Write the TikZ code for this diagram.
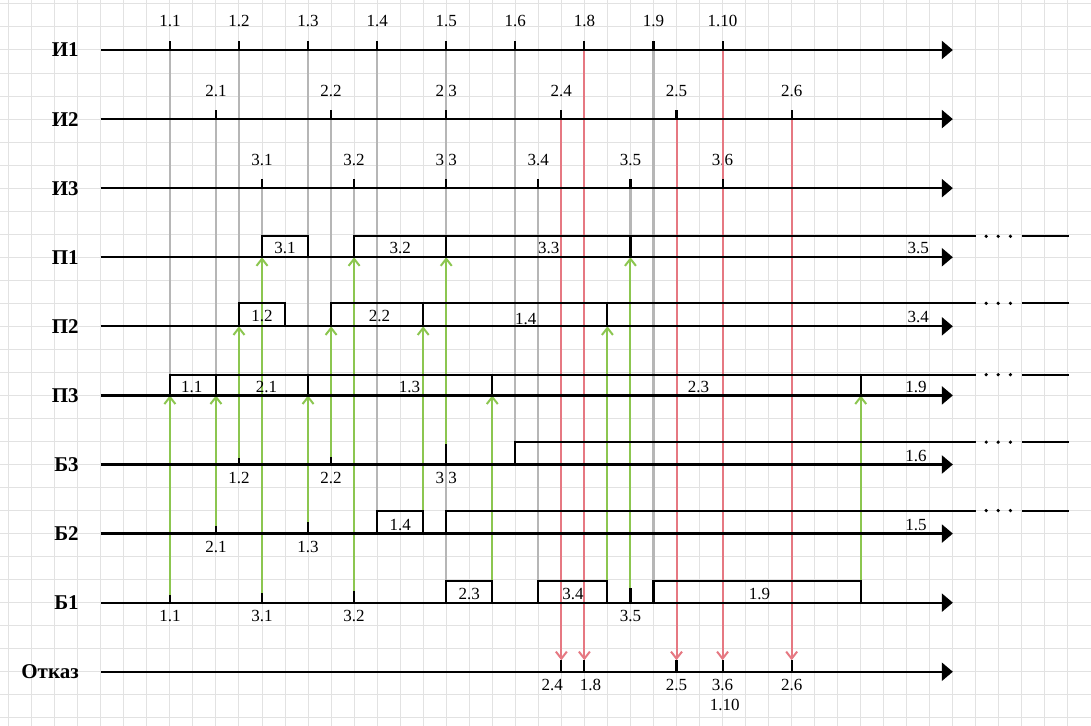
\documentclass[tikz,border=0pt]{standalone}
\usepackage{fontspec}
\setmainfont{Liberation Serif}
\usetikzlibrary{arrows.meta}
\definecolor{gridc}{RGB}{226,226,226}
\definecolor{grayc}{RGB}{182,182,182}
\definecolor{redc}{RGB}{230,120,130}
\definecolor{greenc}{RGB}{140,198,80}
\tikzset{
  gridl/.style={gridc, line width=1pt},
  axisl/.style={line width=2.3pt, -{Triangle[length=11pt,width=18pt]}},
  boxl/.style={line width=2.1pt, line join=miter},
  tickl/.style={line width=2.1pt},
  gline/.style={grayc, line width=2.2pt},
  rline/.style={redc, line width=2pt, -{Straight Barb[length=7pt,width=11pt]}},
  gnline/.style={greenc, line width=2pt, -{Straight Barb[length=7pt,width=11pt]}},
  rowlab/.style={font=\fontsize{21}{24}\selectfont\bfseries, anchor=east, inner sep=0pt},
  evlab/.style={font=\fontsize{17}{20}\selectfont, anchor=base, inner sep=0pt},
  dotc/.style={fill=black, draw=none},
}
\begin{document}
\begin{tikzpicture}[x=23.03pt,y=23.03pt]
\useasboundingbox (-0.378,2.171) rectangle (47.0,-29.353);
\fill[white] (-0.378,2.171) rectangle (47.0,-29.353);
% grid
\foreach \k in {0,...,47} \draw[gridl] (\k,2.171) -- (\k,-29.353);
\foreach \m in {-29,...,2} \draw[gridl] (-0.378,\m) -- (47,\m);

% rows
\foreach \nm/\y/\id in {И1/0/I1, И2/-3/I2, И3/-6/I3, П1/-9/P1, П2/-12/P2, П3/-15/P3, Б3/-18/B3, Б2/-21/B2, Б1/-24/B1, Отказ/-27/R}{
  \node[rowlab] (lab-\id) at (3.05,\y) {\nm};
  \coordinate (\id-s) at (4,\y);
  \coordinate (\id-e) at (41,\y);
}
% box-top levels
\coordinate (P1h) at (0,-8.09);
\coordinate (P2h) at (0,-11);
\coordinate (P3h) at (0,-14.1);
\coordinate (B3h) at (0,-17.03);
\coordinate (B2h) at (0,-20);
\coordinate (B1h) at (0,-23.06);

% source events
\foreach \lab/\x/\id in {1.1/7/a1, 1.2/10/a2, 1.3/13/a3, 1.4/16/a4, 1.5/19/a5, 1.6/22/a6, 1.8/25/a8, 1.9/28/a9, 1.10/31/a10}{
  \coordinate (\id) at (\x,0);
  \node[evlab] (\id-t) at (\x,1.0) {\lab};
}
\foreach \lab/\x/\id in {2.1/9/b1, 2.2/14/b2, 2.3/19/b3, 2.4/24/b4, 2.5/29/b5, 2.6/34/b6}{
  \coordinate (\id) at (\x,-3);
  \node[evlab] (\id-t) at (\x,-2.0) {\lab};
}
\foreach \lab/\x/\id in {3.1/11/c1, 3.2/15/c2, 3.3/19/c3, 3.4/23/c4, 3.5/27/c5, 3.6/31/c6}{
  \coordinate (\id) at (\x,-6);
  \node[evlab] (\id-t) at (\x,-5.0) {\lab};
}

% buffer ticks (tick tops named)
\foreach \lab/\x/\y/\h/\id in {1.2/10/-18/0.3/q1, 2.2/14/-18/0.32/q2, 3.3/19/-18/0.87/q3,
  2.1/9/-21/0.35/q4, 1.3/13/-21/0.5/q5,
  1.1/7/-24/0.35/q6, 3.1/11/-24/0.42/q7, 3.2/15/-24/0.5/q8, 3.5/27/-24/0.65/q9}{
  \coordinate (\id) at (\x,\y);
  \coordinate (\id-u) at (\x,\y+\h);
  \node[evlab] (\id-t) at (\x,\y-0.82) {\lab};
}
% refusal ticks
\foreach \lab/\x/\lx/\id in {2.4/24/23.6/o4, 1.8/25/25.27/o8, 2.5/29/29/o5, 3.6/31/31/o6, 2.6/34/34/o7}{
  \coordinate (\id) at (\x,-27);
  \coordinate (\id-u) at (\x,-26.5);
  \node[evlab] (\id-t) at (\lx,-27.82) {\lab};
}
\node[evlab] (o6-t2) at (31.1,-28.69) {1.10};

% box corners used by green arrows
\coordinate (k14) at (18,-20);
\coordinate (k23) at (21,-23.06);
\coordinate (k34) at (26,-23.06);
\coordinate (k19) at (37,-23.06);

% ---- gray connectors
\draw[gline] (a1) -- (a1 |- P3h);
\draw[gline] (b1) -- (b1 |- P3h);
\draw[gline] (a2) -- (a2 |- P2h);
\draw[gline] (c1) -- (c1 |- P1h);
\draw[gline] (a3) -- (a3 |- P3h);
\draw[gline] (b2) -- (b2 |- P2h);
\draw[gline] (c2) -- (c2 |- P1h);
\draw[gline] (a4) -- (a4 |- B2h);
\draw[gline] (a5) -- (a5 |- B1h);
\draw[gline] (a6) -- (a6 |- B3h);
\draw[gline] (c4) -- (c4 |- B1h);
\draw[gline] (c5) -- (c5 |- P1h);
\draw[gline] (a9) -- (a9 |- B1h);

% ---- red connectors (refusals)
\draw[rline] (b4) -- (o4-u);
\draw[rline] (a8) -- (o8-u);
\draw[rline] (b5) -- (o5-u);
\draw[rline] (a10) -- (o6-u);
\draw[rline] (b6) -- (o7-u);

% ---- green connectors (buffer -> device)
\draw[gnline] (q6-u) -- (q6 |- P3-s);
\draw[gnline] (q4-u) -- (q4 |- P3-s);
\draw[gnline] (q1-u) -- (q1 |- P2-s);
\draw[gnline] (q7-u) -- (q7 |- P1-s);
\draw[gnline] (q5-u) -- (q5 |- P3-s);
\draw[gnline] (q2-u) -- (q2 |- P2-s);
\draw[gnline] (q8-u) -- (q8 |- P1-s);
\draw[gnline] (k14) -- (k14 |- P2-s);
\draw[gnline] (q3-u) -- (q3 |- P1-s);
\draw[gnline] (k23) -- (k23 |- P3-s);
\draw[gnline] (k34) -- (k34 |- P2-s);
\draw[gnline] (q9-u) -- (q9 |- P1-s);
\draw[gnline] (k19) -- (k19 |- P3-s);

% ---- axes
\foreach \id in {I1,I2,I3,P1,P2,P3,B3,B2,B1,R}
  \draw[axisl] (\id-s) -- (\id-e);

% ---- ticks
\foreach \id in {a1,a2,a3,a4,a5,a6,a8,a9,a10,b1,b2,b3,b4,b5,b6,c1,c2,c3,c4,c5,c6}
  \draw[tickl] (\id) -- ++(0,0.4);
\foreach \id in {q1,q2,q3,q4,q5,q6,q7,q8,q9,o4,o8,o5,o6,o7}
  \draw[tickl] (\id) -- (\id-u);

% ---- device / buffer occupancy
% P1
\draw[boxl] (11,-9) -- (11,-8.09) -- (13,-8.09) -- (13,-9);
\draw[boxl] (15,-9) -- (15,-8.09) -- (42,-8.09);
\draw[boxl] (19,-9) -- (19,-8.09);
\draw[boxl] (27,-9) -- (27,-8.09);
\node[evlab] (p1-1) at (12,-8.85) {3.1};
\node[evlab] (p1-2) at (17,-8.85) {3.2};
\node[evlab] (p1-3) at (23.45,-8.85) {3.3};
\node[evlab] (p1-4) at (39.5,-8.85) {3.5};
% P2
\draw[boxl] (10,-12) -- (10,-11) -- (12,-11) -- (12,-12);
\draw[boxl] (14,-12) -- (14,-11) -- (42,-11);
\draw[boxl] (18,-12) -- (18,-11);
\draw[boxl] (26,-12) -- (26,-11);
\node[evlab] (p2-1) at (11,-11.8) {1.2};
\node[evlab] (p2-2) at (16.1,-11.8) {2.2};
\node[evlab] (p2-3) at (22.45,-11.9) {1.4};
\node[evlab] (p2-4) at (39.5,-11.85) {3.4};
% P3
\draw[boxl] (7,-15) -- (7,-14.1) -- (42,-14.1);
\foreach \x in {9,13,21,37} \draw[boxl] (\x,-15) -- (\x,-14.1);
\node[evlab] (p3-1) at (7.95,-14.87) {1.1};
\node[evlab] (p3-2) at (11.2,-14.87) {2.1};
\node[evlab] (p3-3) at (17.4,-14.87) {1.3};
\node[evlab] (p3-4) at (29.95,-14.87) {2.3};
\node[evlab] (p3-5) at (39.4,-14.87) {1.9};
% B3
\draw[boxl] (22,-18) -- (22,-17.03) -- (42,-17.03);
\node[evlab] (b3-1) at (39.4,-17.85) {1.6};
% B2
\draw[boxl] (16,-21) -- (16,-20) -- (18,-20) -- (18,-21);
\draw[boxl] (19,-21) -- (19,-20) -- (42,-20);
\node[evlab] (b2-1) at (17,-20.85) {1.4};
\node[evlab] (b2-2) at (39.4,-20.85) {1.5};
% B1
\draw[boxl] (19,-24) -- (19,-23.06) -- (21,-23.06) -- (21,-24);
\draw[boxl] (23,-24) -- (23,-23.06) -- (26,-23.06) -- (26,-24);
\draw[boxl] (28,-24) -- (28,-23.06) -- (37,-23.06) -- (37,-24);
\node[evlab] (b1-1) at (20,-23.85) {2.3};
\node[evlab] (b1-2) at (24.5,-23.85) {3.4};
\node[evlab] (b1-3) at (32.6,-23.85) {1.9};

% continuation marks
\foreach \y in {-8.09,-11,-14.1,-17.03,-20}{
  \fill[dotc] (42.45,\y) circle (1.8pt);
  \fill[dotc] (42.97,\y) circle (1.8pt);
  \fill[dotc] (43.5,\y) circle (1.8pt);
  \draw[boxl] (44,\y) -- (46.05,\y);
}
\end{tikzpicture}
\end{document}
